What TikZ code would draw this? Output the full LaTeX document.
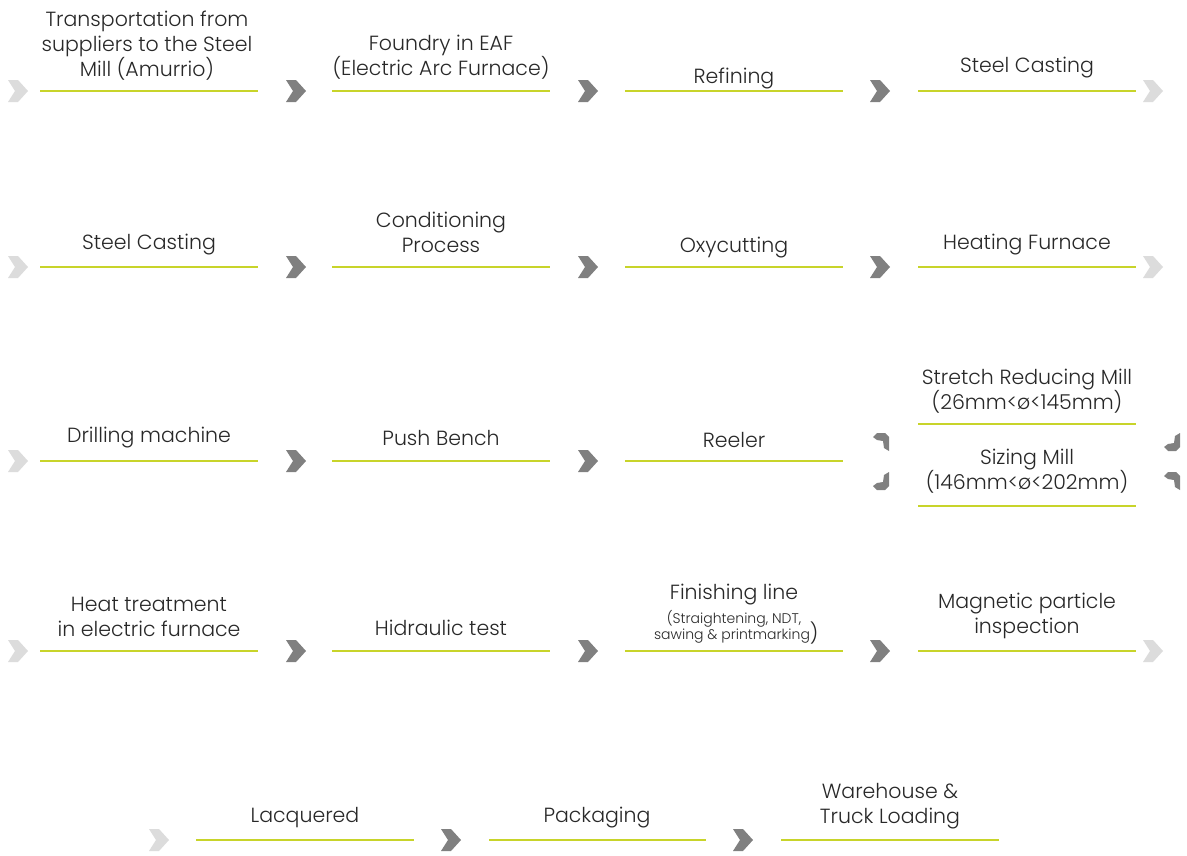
\documentclass[tikz,border=0pt]{standalone}
\usepackage{fontspec}
\setmainfont{Poppins}[UprightFont=* Light]
\definecolor{limeline}{RGB}{200,212,42}
\definecolor{chevD}{RGB}{128,128,128}
\definecolor{chevL}{RGB}{220,220,220}
\definecolor{txt}{RGB}{40,40,40}
\begin{document}
\begin{tikzpicture}[x=1pt,y=-1pt,
  steptext/.style={font=\fontsize{20.5}{25}\selectfont, text=txt, align=center, inner sep=0pt},
  smalltext/.style={font=\fontsize{14}{15}\selectfont, text=txt, inner sep=0pt},
  bar/.style={draw=limeline, line width=2pt},
  chev/.pic={\path[pic actions] (-10,-11) -- (0,-11) -- (10,0) -- (0,11) -- (-10,11) -- (-3,0) -- cycle;},
  bendA/.pic={\path[pic actions] (-8,-5) -- (-4,-9) -- (4,-9) -- (8,-5) -- (8,9) -- (3,6) -- (2,-1) -- (-4,-2) -- cycle;},
  bendB/.pic={\path[pic actions] (-8,5) -- (-4,9) -- (4,9) -- (8,5) -- (8,-9) -- (3,-6) -- (2,1) -- (-4,2) -- cycle;},
  dark/.style={fill=chevD},
  light/.style={fill=chevL}]
\useasboundingbox[fill=white] (0,0) rectangle (1187,855);

% ---------- chevrons and underlines of rows 1-4 ----------
\foreach \y in {91,267,461,651}{
  \pic[light] at (18,\y) {chev};
  \pic[dark] at (296,\y) {chev};
  \pic[dark] at (588,\y) {chev};
  \draw[bar] (40,\y) -- (258,\y);
  \draw[bar] (332,\y) -- (550,\y);
  \draw[bar] (625,\y) -- (843,\y);
}
\foreach \y in {91,267,651}{
  \pic[dark] at (880,\y) {chev};
  \pic[light] at (1153,\y) {chev};
  \draw[bar] (918,\y) -- (1136,\y);
}

% ---------- Row 1 ----------
\node[steptext] (t11) at (147,46) {Transportation from\\suppliers to the Steel\\Mill (Amurrio)};
\node[steptext] (t12) at (441,57) {Foundry in EAF\\(Electric Arc Furnace)};
\node[steptext] (t13) at (734,78) {Refining};
\node[steptext] (t14) at (1027,68) {Steel Casting};

% ---------- Row 2 ----------
\node[steptext] (t21) at (149,245) {Steel Casting};
\node[steptext] (t22) at (441,232) {Conditioning\\Process};
\node[steptext] (t23) at (734,248) {Oxycutting};
\node[steptext] (t24) at (1027,245) {Heating Furnace};

% ---------- Row 3 ----------
\node[steptext] (t31) at (149,438) {Drilling machine};
\node[steptext] (t32) at (441,438) {Push Bench};
\node[steptext] (t33) at (734,440) {Reeler};
\node[steptext] (t34a) at (1027,391) {Stretch Reducing Mill\\(26mm<ø<145mm)};
\node[steptext] (t34b) at (1027,471) {Sizing Mill\\(146mm<ø<202mm)};
\draw[bar] (918,424) -- (1136,424);
\draw[bar] (918,506) -- (1136,506);
\pic[dark] at (881,442) {bendA};
\pic[dark] at (881,481) {bendB};
\pic[dark] at (1172,442) {bendB};
\pic[dark] at (1172,481) {bendA};

% ---------- Row 4 ----------
\node[steptext] (t41) at (149,617) {Heat treatment\\in electric furnace};
\node[steptext] (t42) at (441,628) {Hidraulic test};
\node[steptext] (t43a) at (734,595) {Finishing line};
\node[smalltext] (t43b) at (734,619) {(Straightening, NDT,};
\node[smalltext] (t43c) at (732,633) {sawing \& printmarking\rlap{\fontsize{20}{20}\selectfont\raisebox{-1pt}{)}}};
\node[steptext] (t44) at (1027,616) {Magnetic particle\\inspection};

% ---------- Row 5 ----------
\pic[light] at (159,840) {chev};
\pic[dark] at (451,840) {chev};
\pic[dark] at (743,840) {chev};
\draw[bar] (196,840) -- (414,840);
\draw[bar] (489,840) -- (706,840);
\draw[bar] (781,840) -- (999,840);
\node[steptext] (t51) at (305,818) {Lacquered};
\node[steptext] (t52) at (597,818) {Packaging};
\node[steptext] (t53) at (890,806) {Warehouse \&\\Truck Loading};
\end{tikzpicture}
\end{document}
